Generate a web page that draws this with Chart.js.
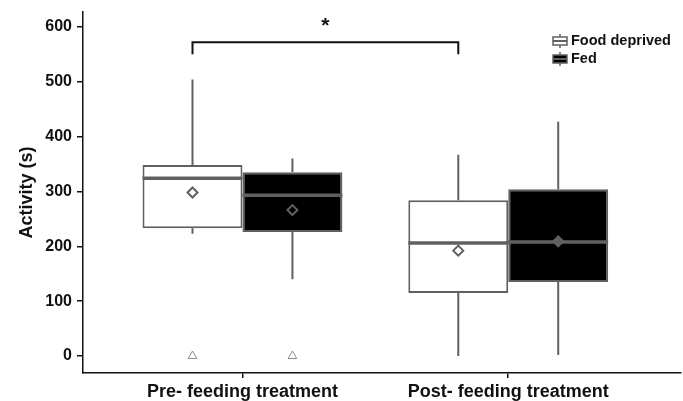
<!DOCTYPE html>
<html>
<head>
<meta charset="utf-8">
<title>Activity box plot</title>
<script src="https://cdn.jsdelivr.net/npm/chart.js@4/dist/chart.umd.min.js"></script>
<style>
  html, body { margin: 0; padding: 0; background: #fff; overflow: hidden; }
  canvas { display: block; }
</style>
</head>
<body>
<canvas id="myChart" width="683" height="401"></canvas>
<script>
// categories and tick labels
const categories = ['Pre- feeding treatment', 'Post- feeding treatment'];
const seriesNames = ['Food deprived', 'Fed'];
const yTicks = [0, 100, 200, 300, 400, 500, 600];

// Food deprived (per category)
const deprivedMin = [223, 0];
const deprivedQ1 = [233, 115];
const deprivedMedian = [324, 206];
const deprivedQ3 = [348, 284];
const deprivedMax = [504, 367];
const deprivedMean = [298, 192];
const deprivedOutliers = [[0], []];

// Fed (per category)
const fedMin = [140, 2];
const fedQ1 = [226, 135];
const fedMedian = [293, 208];
const fedQ3 = [335, 304];
const fedMax = [360, 427];
const fedMean = [266, 209];
const fedOutliers = [[0], []];

// significance bracket between the two Food deprived boxes
const bracketY = [550, 572];
const bracketLabel = '*';

const GRAY = '#606060';
const FONT = '"Liberation Sans", Arial, sans-serif';
const BOX = 0.376; // one box, in category units
const offsets = [-BOX / 2, BOX / 2];
const fills = ['#ffffff', '#000000'];

// line pieces separated by gaps
function pieces(list) {
    const pts = [];
    list.forEach(([a, b]) => {
        pts.push({ x: a[0], y: a[1] }, { x: b[0], y: b[1] }, { x: b[0], y: null });
    });
    return pts;
}

const groups = [
    { min: deprivedMin, q1: deprivedQ1, med: deprivedMedian, q3: deprivedQ3, max: deprivedMax, mean: deprivedMean, out: deprivedOutliers },
    { min: fedMin, q1: fedQ1, med: fedMedian, q3: fedQ3, max: fedMax, mean: fedMean, out: fedOutliers }
];

const whiskerParts = [];
const medianParts = [];
const meanPoints = [[], []];
const outlierPoints = [];
groups.forEach((g, s) => {
    categories.forEach((c, i) => {
        const cx = i + offsets[s];
        whiskerParts.push([[cx, g.q3[i]], [cx, g.max[i]]]);
        whiskerParts.push([[cx, g.q1[i]], [cx, g.min[i]]]);
        medianParts.push([[cx - BOX / 2, g.med[i]], [cx + BOX / 2, g.med[i]]]);
        meanPoints[s].push({ x: cx, y: g.mean[i] });
        g.out[i].forEach(v => outlierPoints.push({ x: cx, y: v }));
    });
});

const bracketPoints = [
    { x: 0 + offsets[0], y: bracketY[0] },
    { x: 0 + offsets[0], y: bracketY[1] },
    { x: 1 + offsets[0], y: bracketY[1] },
    { x: 1 + offsets[0], y: bracketY[0] }
];

// asterisk and legend
const extras = {
    id: 'extras',
    afterDraw(chart) {
        const { ctx, chartArea, scales: { x, y } } = chart;
        ctx.save();
        ctx.fillStyle = '#111';
        ctx.font = 'bold 21px ' + FONT;
        ctx.textAlign = 'center';
        ctx.textBaseline = 'alphabetic';
        const midX = x.getPixelForValue((bracketPoints[1].x + bracketPoints[2].x) / 2);
        ctx.fillText(bracketLabel, midX, y.getPixelForValue(bracketY[1]) - 10);

        const lx = chartArea.right - 121;
        seriesNames.forEach((name, i) => {
            const cy = chartArea.top + 29 + i * 18;
            ctx.strokeStyle = GRAY;
            ctx.lineWidth = 1.5;
            ctx.beginPath();
            ctx.moveTo(lx, cy - 7);
            ctx.lineTo(lx, cy + 7);
            ctx.stroke();
            ctx.fillStyle = fills[i];
            ctx.fillRect(lx - 7, cy - 4, 14, 8);
            ctx.strokeRect(lx - 7, cy - 4, 14, 8);
            ctx.lineWidth = 2;
            ctx.beginPath();
            ctx.moveTo(lx - 7, cy);
            ctx.lineTo(lx + 7, cy);
            ctx.stroke();
            ctx.fillStyle = '#111';
            ctx.font = 'bold 14.5px ' + FONT;
            ctx.textAlign = 'left';
            ctx.textBaseline = 'middle';
            ctx.fillText(name, lx + 11, cy);
        });
        ctx.restore();
    }
};

const lineBase = { type: 'line', pointRadius: 0, spanGaps: false, fill: false, borderCapStyle: 'butt' };

new Chart('myChart', {
    type: 'bar',
    data: {
        datasets: [
            Object.assign({}, lineBase, { label: 'bracket', data: bracketPoints, borderColor: '#111', borderWidth: 2, order: 0 }),
            { type: 'line', label: 'mean deprived', data: meanPoints[0], showLine: false, pointStyle: 'rectRot', pointRadius: 5,
              pointBorderWidth: 2, pointBorderColor: GRAY, pointBackgroundColor: '#fff', order: 0 },
            { type: 'line', label: 'mean fed', data: meanPoints[1], showLine: false, pointStyle: 'rectRot', pointRadius: 5,
              pointBorderWidth: 2, pointBorderColor: GRAY, pointBackgroundColor: ['#000', GRAY], order: 0 },
            { type: 'line', label: 'outliers', data: outlierPoints, showLine: false, pointStyle: 'triangle', pointRadius: 5,
              pointBorderWidth: 1, pointBorderColor: '#8c8c8c', pointBackgroundColor: '#fff', order: 0 },
            Object.assign({}, lineBase, { label: 'medians', data: pieces(medianParts), borderColor: GRAY, borderWidth: 3.5, order: 1 }),
            Object.assign({}, lineBase, { label: 'whiskers', data: pieces(whiskerParts), borderColor: GRAY, borderWidth: 2, order: 1 }),
            {
                label: seriesNames[0],
                data: categories.map((c, i) => ({ x: i, y: [deprivedQ1[i], deprivedQ3[i]] })),
                backgroundColor: fills[0], borderColor: GRAY, borderWidth: 2, borderSkipped: false, order: 2
            },
            {
                label: seriesNames[1],
                data: categories.map((c, i) => ({ x: i, y: [fedQ1[i], fedQ3[i]] })),
                backgroundColor: fills[1], borderColor: GRAY, borderWidth: 2, borderSkipped: false, order: 2
            }
        ]
    },
    options: {
        responsive: false,
        animation: false,
        categoryPercentage: BOX * 2,
        barPercentage: 1,
        layout: { autoPadding: false, padding: { top: 12, right: 2, left: 0, bottom: 0 } },
        plugins: { legend: { display: false }, tooltip: { enabled: false } },
        scales: {
            x: {
                type: 'linear',
                min: -0.6,
                max: 1.65,
                offset: false,
                afterBuildTicks: (scale) => { scale.ticks = categories.map((c, i) => ({ value: i })); },
                afterFit: (scale) => {
                    scale.height = 28;
                    scale.paddingLeft = 0;
                    scale.paddingRight = 0;
                },
                ticks: {
                    callback: (value, index) => categories[index],
                    color: '#111',
                    font: { family: FONT, size: 18, weight: 'bold' },
                    padding: 3,
                    maxRotation: 0,
                    autoSkip: false
                },
                grid: { display: true, offset: false, drawOnChartArea: false, drawTicks: true, tickLength: 5, color: '#111', lineWidth: 1.5 },
                border: { display: true, color: '#111', width: 1.5 }
            },
            y: {
                min: -31,
                max: 627,
                afterBuildTicks: (scale) => { scale.ticks = yTicks.map(v => ({ value: v })); },
                afterFit: (scale) => {
                    scale.width = 83;
                    scale.paddingTop = 0;
                    scale.paddingBottom = 0;
                },
                title: {
                    display: true,
                    text: 'Activity (s)',
                    color: '#111',
                    font: { family: FONT, size: 18, weight: 'bold' },
                    padding: { top: 16, bottom: 0 }
                },
                ticks: {
                    color: '#111',
                    font: { family: FONT, size: 16, weight: 'bold' },
                    padding: 5
                },
                grid: { display: true, drawOnChartArea: false, drawTicks: true, tickLength: 6, color: '#111', lineWidth: 1.5 },
                border: { display: true, color: '#111', width: 1.5 }
            }
        }
    },
    plugins: [extras]
});
</script>
</body>
</html>
